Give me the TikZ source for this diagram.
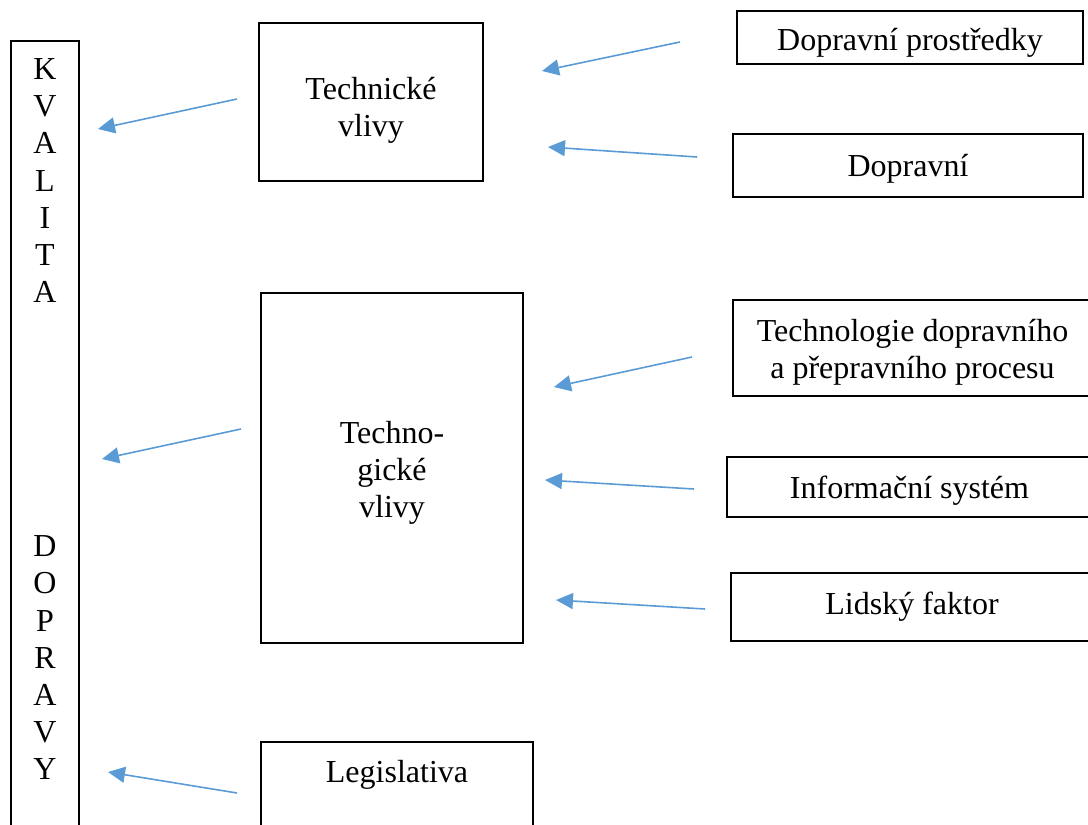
\documentclass[tikz,border=0pt]{standalone}
\usepackage{fontspec}
\setmainfont{Liberation Serif}
\usepackage{tikz}
\usetikzlibrary{arrows.meta,positioning}

\begin{document}
\begin{tikzpicture}[
x=0.5pt, y=-0.5pt,
box/.style={draw=black, line width=0.8pt, align=center, anchor=north, inner ysep=0pt, font=\fontsize{16pt}{18.6pt}\selectfont},
arrow/.style={-{Triangle[length=8.5pt,width=8pt]}, line width=0.8pt, draw=arrowblue, fill=arrowblue},
]
\definecolor{arrowblue}{HTML}{5B9BD5}
\useasboundingbox (0,0) rectangle (1088,825);
\clip (0,0) rectangle (1088,825);

\node[box, minimum width=34pt, text height=369.5pt, text depth=60pt] (kval) at (45,40)
  {K\\V\\A\\L\\I\\T\\A\\[108.4pt]D\\O\\P\\R\\A\\V\\Y};
\node[box, minimum width=112pt, text height=57pt, text depth=22pt] (tech) at (371,22) {Technické\\vlivy};
\node[box, minimum width=131pt, text height=112.35pt, text depth=62.65pt] (techno) at (392,292) {Techno-\\gické\\vlivy};
\node[box, minimum width=136pt, text height=20.5pt, text depth=60pt] (legis) at (397,741) {Legislativa};

\node[box, minimum width=173pt, text height=20pt, text depth=6.5pt] (prostr) at (910,10) {Dopravní prostředky};
\node[box, minimum width=175pt, text height=21.25pt, text depth=10.25pt] (cesta) at (908,133) {Dopravní};
\node[box, minimum width=179.5pt, text height=39.5pt, text depth=8.5pt] (proces) at (912.5,299) {Technologie dopravního\\a přepravního procesu};
\node[box, minimum width=182.5pt, text height=20.75pt, text depth=9.25pt] (info) at (909.5,456) {Informační systém};
\node[box, minimum width=181pt, text height=20.75pt, text depth=13.25pt] (lidsky) at (912,572) {Lidský faktor};

\coordinate (prostr-out) at (680,42);
\coordinate (tech-in1) at (542,71);
\coordinate (cesta-out) at (697,157);
\coordinate (tech-in2) at (548,147);
\coordinate (tech-out) at (237,99);
\coordinate (kval-in1) at (98,129);
\coordinate (proces-out) at (692,357);
\coordinate (techno-in1) at (554,387);
\coordinate (info-out) at (694,489);
\coordinate (techno-in2) at (545,480);
\coordinate (lidsky-out) at (705,609);
\coordinate (techno-in3) at (556,600);
\coordinate (techno-out) at (241,429);
\coordinate (kval-in2) at (102,459);
\coordinate (legis-out) at (237,793);
\coordinate (kval-in3) at (108,772);

\draw[arrow] (prostr-out) -- (tech-in1);
\draw[arrow] (cesta-out) -- (tech-in2);
\draw[arrow] (tech-out) -- (kval-in1);
\draw[arrow] (proces-out) -- (techno-in1);
\draw[arrow] (info-out) -- (techno-in2);
\draw[arrow] (lidsky-out) -- (techno-in3);
\draw[arrow] (techno-out) -- (kval-in2);
\draw[arrow] (legis-out) -- (kval-in3);
\end{tikzpicture}
\end{document}
